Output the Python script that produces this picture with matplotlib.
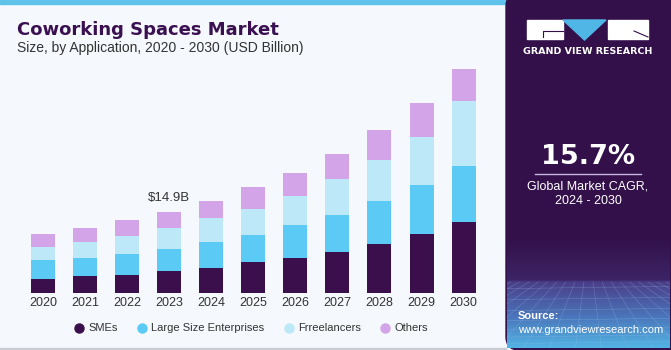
import numpy as np
import matplotlib.pyplot as plt
from matplotlib.patches import Rectangle, Polygon, FancyBboxPatch
from matplotlib.lines import Line2D
from matplotlib.colors import LinearSegmentedColormap

# data (USD billion)
years = ['2020', '2021', '2022', '2023', '2024', '2025', '2026', '2027', '2028', '2029', '2030']
smes = [2.66, 3.14, 3.40, 4.14, 4.62, 5.67, 6.41, 7.65, 9.12, 10.90, 13.19]
large = [3.38, 3.32, 3.88, 4.06, 4.80, 5.04, 6.09, 6.83, 7.87, 9.05, 10.27]
freelancers = [2.46, 2.95, 3.19, 3.80, 4.38, 4.75, 5.48, 6.57, 7.52, 8.81, 12.00]
others = [2.47, 2.53, 2.95, 2.90, 3.14, 4.06, 4.25, 4.69, 5.48, 6.22, 5.80]
series_names = ['SMEs', 'Large Size Enterprises', 'Frreelancers', 'Others']
colors = ['#3a0f4c', '#5bcbf5', '#bde8f8', '#d3a5e8']
highlight_year = '2023'
highlight_label = '$14.9B'
cagr = '15.7%'

W, H = 671, 350
fig = plt.figure(figsize=(W / 100, H / 100), dpi=100)
fig.patch.set_facecolor('#f5f8fc')
panel_col = '#33104a'


def fx(x):
    return x / W


def fy(y):
    return 1 - y / H


# top accent strip and bottom rule on the left panel
fig.patches.append(Rectangle((0, fy(4)), fx(506), 4 / H, transform=fig.transFigure,
                             color='#5ec2ea', zorder=-2))
fig.patches.append(Rectangle((0, 0), fx(506), 2 / H, transform=fig.transFigure,
                             color='#c9ccd2', zorder=-2))

# chart
ax = fig.add_axes([fx(22), fy(293), fx(462.6), (293 - 60) / H])
ax.set_facecolor('none')
x = np.arange(len(years))
bottom = np.zeros(len(years))
for vals, c in zip([smes, large, freelancers, others], colors):
    ax.bar(x, vals, width=0.57, bottom=bottom, color=c, linewidth=0)
    bottom += np.array(vals)

ax.set_xlim(-0.5, len(years) - 0.5)
ax.set_ylim(0, 43.0)
ax.set_xticks(x)
ax.set_xticklabels(years, fontsize=9, color='#333333', family='Liberation Sans')
ax.tick_params(axis='x', length=0, pad=3)
ax.set_yticks([])
for s in ax.spines.values():
    s.set_visible(False)

hi = years.index(highlight_year)
ax.text(hi, bottom[hi] + 1.6, highlight_label, ha='center', va='bottom',
        fontsize=9.5, color='#333333', family='Liberation Sans')

# titles
fig.text(fx(17), fy(30), 'Coworking Spaces Market', fontsize=13, fontweight='bold',
         color='#3a1050', va='center', ha='left', family='DejaVu Sans')
fig.text(fx(17), fy(48), 'Size, by Application, 2020 - 2030 (USD Billion)', fontsize=10,
         color='#333333', va='center', ha='left', family='Liberation Sans')

# legend
leg_x = [79, 142, 289, 385]
for lx, name, c in zip(leg_x, series_names, colors):
    fig.lines.append(Line2D([fx(lx)], [fy(328)], marker='o', markersize=6.5, color=c,
                            transform=fig.transFigure, linestyle='none'))
    fig.text(fx(lx + 9), fy(328), name, fontsize=8, color='#333333', va='center',
             ha='left', family='Liberation Sans')

# right panel
panel = FancyBboxPatch((fx(506), 0), fx(W - 506) + 0.02, 1.02, transform=fig.transFigure,
                       boxstyle='round,pad=0,rounding_size=0.02', color=panel_col,
                       zorder=-1, mutation_aspect=W / H)
fig.patches.append(panel)

# gradient + grid at panel bottom
gax = fig.add_axes([fx(507), fy(348), fx(W - 508), 110 / H])
gax.set_zorder(1)
grad = np.linspace(0, 1, 200)[:, None]
cmap = LinearSegmentedColormap.from_list(
    'g', [(0, panel_col), (0.38, '#3d2466'), (0.4, '#4a3e88'), (0.7, '#4a72b8'), (1, '#52b4e4')])
gax.imshow(grad, aspect='auto', cmap=cmap, extent=[0, 1, 0, 1], origin='upper')
for k in np.linspace(-1.5, 2.5, 26):
    gax.plot([0.5 + (k - 0.5) * 0.35, k], [0.6, 0], color='#9cc4ee', lw=0.4, alpha=0.35)
for yy in [0.04, 0.1, 0.17, 0.25, 0.34, 0.44, 0.54]:
    gax.plot([0, 1], [yy, yy + 0.02], color='#9cc4ee', lw=0.4, alpha=0.35)
gax.set_xlim(0, 1)
gax.set_ylim(0, 1)
gax.axis('off')

# logo
fig.patches.append(Rectangle((fx(527), fy(39)), fx(36), 19 / H, transform=fig.transFigure,
                             color='white'))
fig.patches.append(Rectangle((fx(608), fy(39)), fx(40), 19 / H, transform=fig.transFigure,
                             color='white'))
fig.patches.append(Polygon([(fx(563), fy(20)), (fx(606), fy(20)), (fx(584.5), fy(40))],
                           closed=True, transform=fig.transFigure, color='#4fb6e6'))
fig.lines.append(Line2D([fx(543), fx(543), fx(563)], [fy(37), fy(31), fy(31)],
                        transform=fig.transFigure, color=panel_col, lw=0.8))
fig.lines.append(Line2D([fx(634), fx(648)], [fy(31), fy(37)],
                        transform=fig.transFigure, color=panel_col, lw=0.8))
fig.text(fx(587.5), fy(51), 'GRAND VIEW RESEARCH', fontsize=6.8, fontweight='bold',
         color='white', ha='center', va='center', family='DejaVu Sans')

fig.text(fx(588), fy(157), cagr, fontsize=19.5, fontweight='bold', color='white',
         ha='center', va='center', family='DejaVu Sans')
fig.lines.append(Line2D([fx(535), fx(641)], [fy(173.5), fy(173.5)], transform=fig.transFigure,
                        color='#c7b7e0', lw=1))
fig.text(fx(588), fy(186), 'Global Market CAGR,', fontsize=9, color='white',
         ha='center', va='center', family='Liberation Sans')
fig.text(fx(588), fy(201), '2024 - 2030', fontsize=9, color='white',
         ha='center', va='center', family='Liberation Sans')
fig.text(fx(518), fy(316), 'Source:', fontsize=8, fontweight='bold', color='white',
         ha='left', va='center', family='Liberation Sans', zorder=5)
fig.text(fx(518), fy(330), 'www.grandviewresearch.com', fontsize=8, color='white',
         ha='left', va='center', family='Liberation Sans', zorder=5)

fig.savefig('out.png', dpi=100, facecolor=fig.get_facecolor())
